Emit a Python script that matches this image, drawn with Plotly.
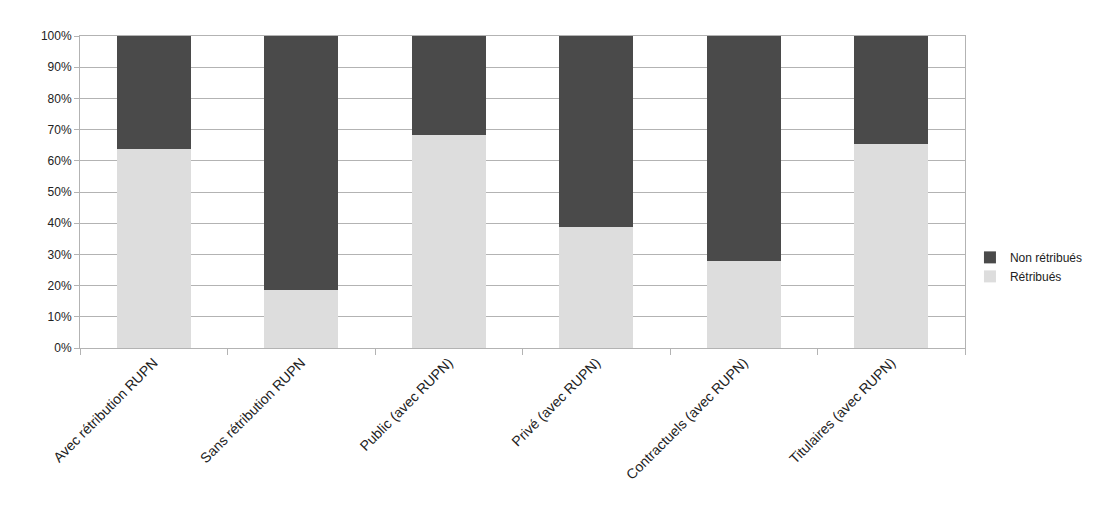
import plotly.graph_objects as go

categories = ["Avec rétribution RUPN", "Sans rétribution RUPN", "Public (avec RUPN)",
              "Privé (avec RUPN)", "Contractuels (avec RUPN)", "Titulaires (avec RUPN)"]
retribues = [63.7, 18.6, 68.3, 38.9, 28.0, 65.4]
non_retribues = [100 - v for v in retribues]

fig = go.Figure()
fig.add_trace(go.Bar(x=categories, y=retribues, name="Rétribués",
                     marker=dict(color="#dddddd", line=dict(width=0))))
fig.add_trace(go.Bar(x=categories, y=non_retribues, name="Non rétribués",
                     marker=dict(color="#4a4a4a", line=dict(width=0))))

fig.update_layout(
    barmode="stack",
    bargap=0.5,
    width=1101, height=508,
    margin=dict(l=72, r=144, t=28, b=168, autoexpand=False),
    paper_bgcolor="white", plot_bgcolor="white",
    font=dict(family="Liberation Sans, Arial, sans-serif", size=12, color="#222222"),
    legend=dict(traceorder="reversed", x=1.0056, y=0.26, yanchor="middle", xanchor="left",
                font=dict(size=12, color="#222222"), itemwidth=30, tracegroupgap=0),
    showlegend=True,
)
fig.update_xaxes(
    tickangle=-45, showline=True, linecolor="#b3b3b3", linewidth=1,
    ticks="outside", tickson="boundaries", ticklen=6, tickcolor="#b3b3b3",
    showgrid=False, mirror=True, automargin=False,
    tickfont=dict(size=14, color="#222222"),
)
fig.update_yaxes(
    range=[0, 100], dtick=10, ticksuffix="%", showgrid=True, gridcolor="#b3b3b3",
    showline=True, linecolor="#b3b3b3", linewidth=1, mirror=True,
    ticks="outside", ticklen=5, tickcolor="#b3b3b3", zeroline=False, automargin=False,
)
fig.write_html("out.html")
